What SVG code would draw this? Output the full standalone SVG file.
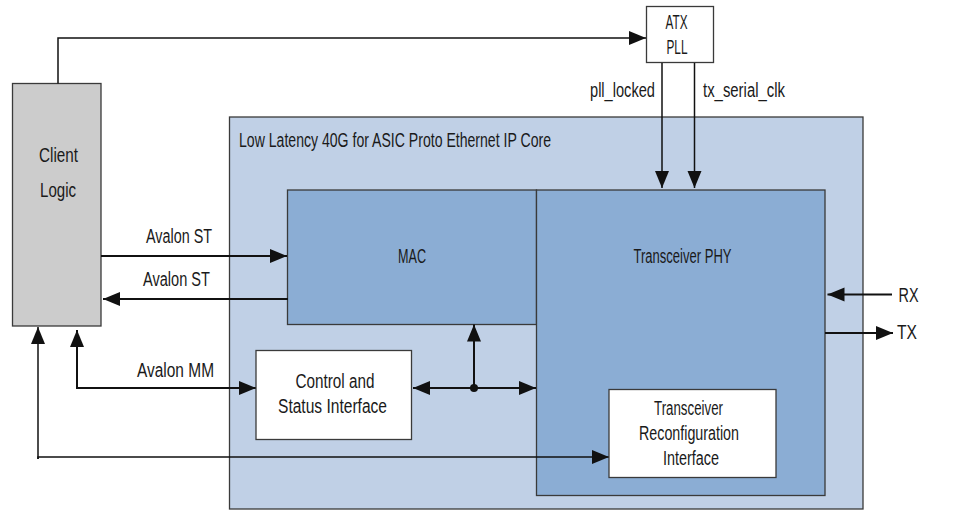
<svg xmlns="http://www.w3.org/2000/svg" width="976" height="510" viewBox="0 0 976 510">
<defs>
<style>
.t{font-family:"Liberation Sans",Arial,sans-serif;font-size:20px;fill:#1a1a1a}
.box{stroke:#3a3a3a;stroke-width:1.3}
.c{fill:none;stroke:#111;stroke-width:2}
.thin{fill:none;stroke:#111;stroke-width:1.5}
</style>
<marker id="ah" markerUnits="userSpaceOnUse" markerWidth="18" markerHeight="15" refX="17" refY="7" orient="auto">
<path d="M0,0 L17,7 L0,14 z" fill="#111"/>
</marker>
<marker id="as" markerUnits="userSpaceOnUse" markerWidth="18" markerHeight="15" refX="0" refY="7" orient="auto">
<path d="M17,0 L0,7 L17,14 z" fill="#111"/>
</marker>
</defs>
<rect width="976" height="510" fill="#ffffff"/>

<g id="ip-core">
<rect class="box" x="229.5" y="117" width="633.5" height="392" fill="#c0d0e6"/>
<text class="t" x="239" y="147" textLength="312" lengthAdjust="spacingAndGlyphs">Low Latency 40G for ASIC Proto Ethernet IP Core</text>
</g>

<g id="mac">
<rect class="box" x="287.5" y="190" width="249" height="134.5" fill="#8badd4"/>
<text class="t" x="412" y="263" text-anchor="middle" textLength="28" lengthAdjust="spacingAndGlyphs">MAC</text>
</g>

<g id="phy">
<rect class="box" x="536.5" y="190" width="288.5" height="305.5" fill="#8badd4"/>
<text class="t" x="682.5" y="263" text-anchor="middle" textLength="98" lengthAdjust="spacingAndGlyphs">Transceiver PHY</text>
</g>

<g id="client">
<rect class="box" x="12.5" y="83.5" width="88.5" height="242.5" fill="#cccccc"/>
<text class="t" x="58.5" y="162" text-anchor="middle" textLength="39" lengthAdjust="spacingAndGlyphs">Client</text>
<text class="t" x="58" y="197" text-anchor="middle" textLength="36" lengthAdjust="spacingAndGlyphs">Logic</text>
</g>

<g id="atx-pll">
<rect class="box" x="646.5" y="6.5" width="67" height="56" fill="#ffffff"/>
<text class="t" x="676.5" y="29" text-anchor="middle" textLength="22" lengthAdjust="spacingAndGlyphs">ATX</text>
<text class="t" x="677" y="54" text-anchor="middle" textLength="21" lengthAdjust="spacingAndGlyphs">PLL</text>
</g>

<g id="connectors">
<path class="thin" d="M58,83.5 V38 H646" marker-end="url(#ah)"/>
<path class="thin" d="M662,63 V188" marker-end="url(#ah)"/>
<path class="thin" d="M694.5,63 V188" marker-end="url(#ah)"/>
<path class="c" d="M101,256 H287" marker-end="url(#ah)"/>
<path class="c" d="M288,299 H103" marker-end="url(#ah)"/>
<path class="c" d="M76,388 H256" marker-end="url(#ah)"/>
<path class="c" d="M77,389 V330" marker-end="url(#ah)"/>
<path class="thin" d="M38,459 V457 H609" marker-end="url(#ah)"/>
<path class="thin" d="M38,459 V327" marker-end="url(#ah)"/>
<path class="c" d="M413,388 H536" marker-start="url(#as)" marker-end="url(#ah)"/>
<path class="c" d="M474,388 V324.5" marker-end="url(#ah)"/>
<circle cx="474" cy="388" r="4" fill="#111"/>
<path class="c" d="M892,294.5 H827.5" marker-end="url(#ah)"/>
<path class="c" d="M825,333 H893" marker-end="url(#ah)"/>
<text class="t" x="655" y="97" text-anchor="end" textLength="65" lengthAdjust="spacingAndGlyphs">pll_locked</text>
<text class="t" x="703" y="97" textLength="82" lengthAdjust="spacingAndGlyphs">tx_serial_clk</text>
<text class="t" x="212" y="243" text-anchor="end" textLength="66" lengthAdjust="spacingAndGlyphs">Avalon ST</text>
<text class="t" x="210" y="285.5" text-anchor="end" textLength="67" lengthAdjust="spacingAndGlyphs">Avalon ST</text>
<text class="t" x="214" y="376.5" text-anchor="end" textLength="77" lengthAdjust="spacingAndGlyphs">Avalon MM</text>
<text class="t" x="898.5" y="301.5" textLength="20" lengthAdjust="spacingAndGlyphs">RX</text>
<text class="t" x="897" y="339" textLength="20" lengthAdjust="spacingAndGlyphs">TX</text>
</g>

<g id="csr">
<rect class="box" x="256" y="350.5" width="155.5" height="89" fill="#ffffff"/>
<text class="t" x="335" y="388" text-anchor="middle" textLength="79" lengthAdjust="spacingAndGlyphs">Control and</text>
<text class="t" x="332.5" y="413" text-anchor="middle" textLength="109" lengthAdjust="spacingAndGlyphs">Status Interface</text>
</g>

<g id="reconfig">
<rect class="box" x="609" y="389.5" width="167" height="88" fill="#ffffff"/>
<text class="t" x="688.5" y="415" text-anchor="middle" textLength="69" lengthAdjust="spacingAndGlyphs">Transceiver</text>
<text class="t" x="689" y="440" text-anchor="middle" textLength="100" lengthAdjust="spacingAndGlyphs">Reconfiguration</text>
<text class="t" x="691" y="465" text-anchor="middle" textLength="56" lengthAdjust="spacingAndGlyphs">Interface</text>
</g>
</svg>
